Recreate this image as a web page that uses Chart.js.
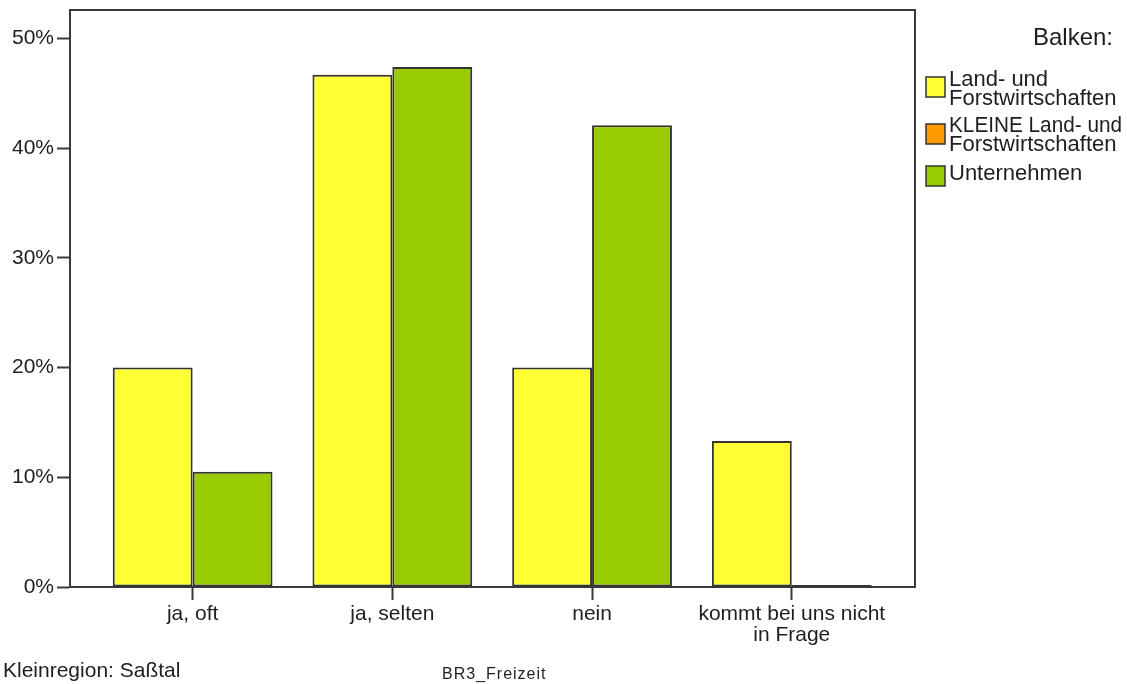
<!DOCTYPE html>
<html><head><meta charset="utf-8">
<script src="https://cdn.jsdelivr.net/npm/chart.js@4"></script>
<style>html,body{margin:0;padding:0;background:#fff;}#wrap{position:relative;width:1127px;height:684px;}</style>
</head><body><div id="wrap"><canvas id="c" width="1127" height="684"></canvas></div>
<script>
const categories = [['ja, oft'], ['ja, selten'], ['nein'], ['kommt bei uns nicht', 'in Frage']];
const seriesNames = [['Land- und', 'Forstwirtschaften'], ['KLEINE Land- und', 'Forstwirtschaften'], ['Unternehmen']];
const landForst = [20.0, 46.7, 20.0, 13.3];
const kleineLandForst = [null, null, null, null];
const unternehmen = [10.5, 47.4, 42.1, 0];
const yTickValues = [0, 10, 20, 30, 40, 50];
const legendTitle = 'Balken:';
const footerLeft = 'Kleinregion: Saßtal';
const footerCenter = 'BR3_Freizeit';

const colors = ['#ffff33', '#ff9900', '#99cc00'];
const seriesData = [landForst, kleineLandForst, unternehmen];
const FONT = '"Liberation Sans", Arial, sans-serif';
const TXT = '#1e1e1e';
const LINE = '#3a3a3a';

const datasets = seriesData.map((arr, k) => ({
  label: seriesNames[k].join(' '),
  data: arr.map((v, i) => ({x: i, y: v})),
  backgroundColor: colors[k],
  borderColor: '#333333',
  borderWidth: 2,
  borderSkipped: false,
  minBarLength: 2,
  categoryPercentage: 0.8,
  barPercentage: 1.0
}));

const frame = {
  id: 'frame',
  beforeDatasetsDraw(chart) {
    const {ctx, chartArea: a} = chart;
    ctx.save();
    ctx.strokeStyle = LINE; ctx.lineWidth = 2;
    ctx.strokeRect(a.left, a.top, a.right - a.left, a.bottom - a.top);
    ctx.restore();
  },
  afterDraw(chart) {
    const ctx = chart.ctx;
    ctx.save();
    ctx.fillStyle = TXT;
    ctx.textBaseline = 'alphabetic';
    ctx.font = '24px ' + FONT;
    ctx.textAlign = 'right';
    ctx.fillText(legendTitle, 1113, 45);
    ctx.textAlign = 'left';
    ctx.font = '22px ' + FONT;
    const boxes = [77, 124, 166];
    const base = [86, 132, 180];
    seriesNames.forEach((lines, k) => {
      ctx.fillStyle = colors[k];
      ctx.fillRect(926, boxes[k], 19, 20);
      ctx.strokeStyle = '#333'; ctx.lineWidth = 1.5;
      ctx.strokeRect(926, boxes[k], 19, 20);
      ctx.fillStyle = TXT;
      lines.forEach((t, j) => ctx.fillText(t, 949, base[k] + j * 18.5, 173));
    });
    ctx.font = '21px ' + FONT;
    ctx.fillText(footerLeft, 3, 677);
    ctx.font = '16px ' + FONT;
    try { ctx.letterSpacing = '1px'; } catch (e) {}
    ctx.fillText(footerCenter, 442, 679);
    ctx.restore();
  }
};

new Chart(document.getElementById('c'), {
  type: 'bar',
  data: {datasets},
  options: {
    responsive: false,
    animation: false,
    devicePixelRatio: 1,
    skipNull: true,
    parsing: {xAxisKey: 'x', yAxisKey: 'y'},
    layout: {padding: {left: 0, top: 10, right: 212, bottom: 0}},
    plugins: {legend: {display: false}, tooltip: {enabled: false}},
    scales: {
      x: {
        type: 'linear', min: -0.614, max: 3.617, offset: false,
        afterBuildTicks: s => { s.ticks = categories.map((_, i) => ({value: i})); },
        afterFit: s => { s.height = 97; s.paddingLeft = 0; s.paddingRight = 0; },
        ticks: {
          callback: v => categories[v] || '',
          font: {family: FONT, size: 21, lineHeight: 1.0},
          color: TXT, padding: 4, maxRotation: 0, autoSkip: false
        },
        grid: {offset: false, drawOnChartArea: false, drawTicks: true, tickLength: 13, tickWidth: 2, tickColor: LINE},
        border: {color: LINE, width: 2}
      },
      y: {
        min: 0, max: 52.6,
        afterBuildTicks: s => { s.ticks = yTickValues.map(v => ({value: v})); },
        afterFit: s => { s.width = 70; s.paddingTop = 0; s.paddingBottom = 0; },
        ticks: {
          callback: v => v + '%',
          font: {family: FONT, size: 21},
          color: TXT, padding: 3
        },
        grid: {drawOnChartArea: false, drawTicks: true, tickLength: 13, tickWidth: 2, tickColor: LINE},
        border: {color: LINE, width: 2}
      }
    }
  },
  plugins: [frame]
});
</script></body></html>
